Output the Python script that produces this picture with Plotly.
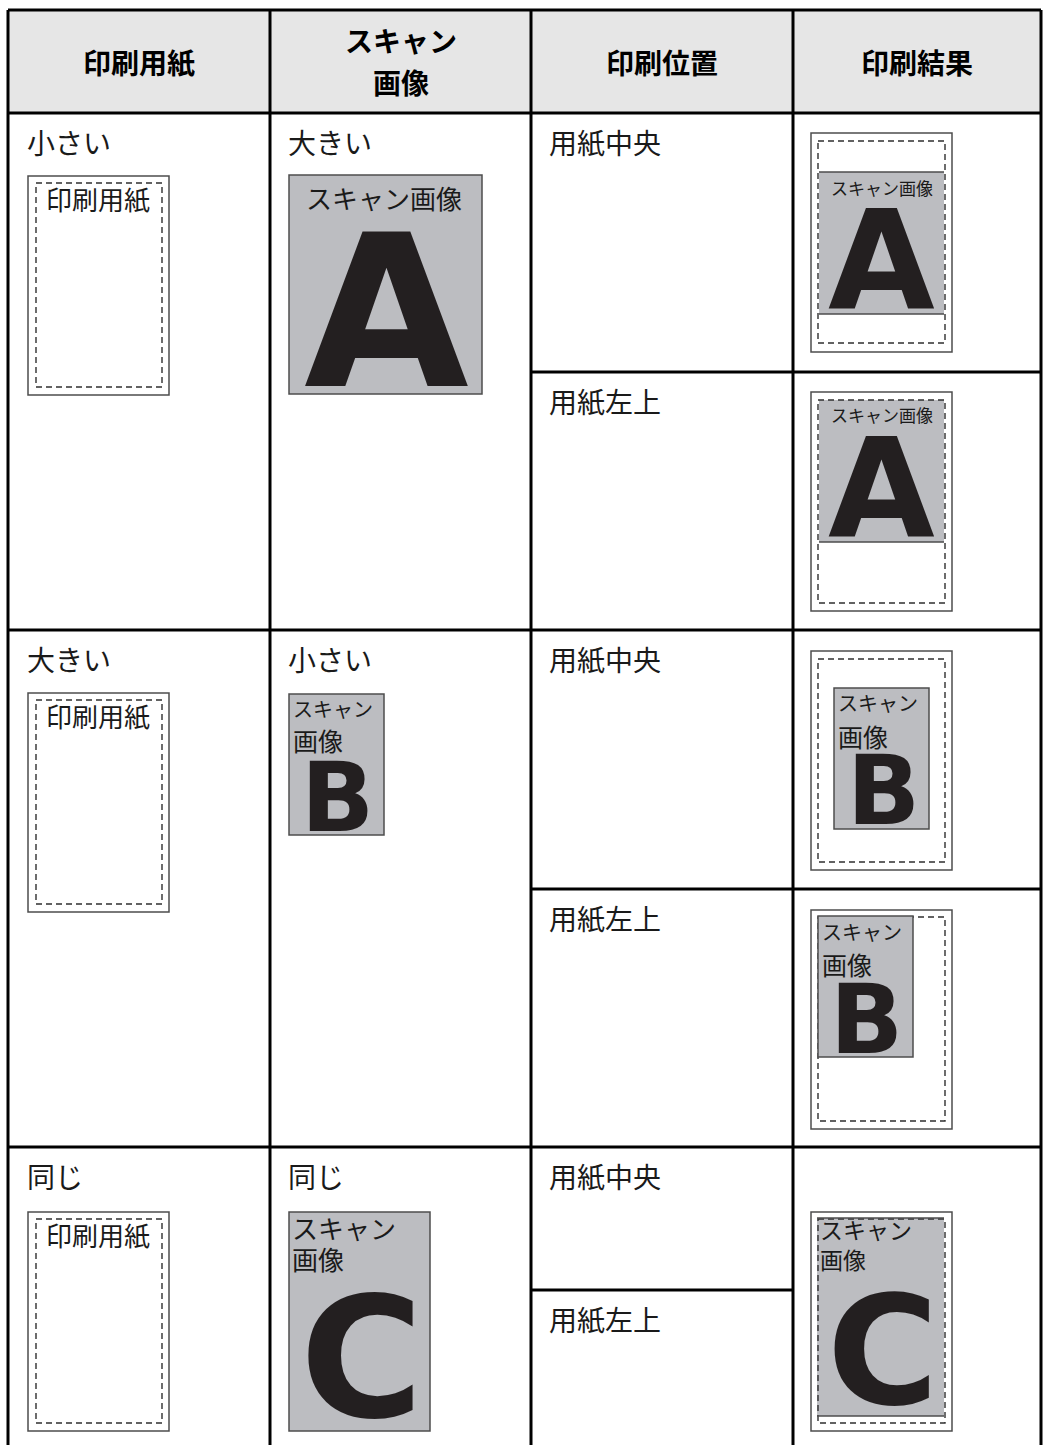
import plotly.graph_objects as go

# ---------------- data (texts) ----------------
header_labels = ["印刷用紙", "スキャン", "画像", "印刷位置", "印刷結果"]
paper_labels = ["小さい", "大きい", "同じ"]
scan_labels = ["大きい", "小さい", "同じ"]
position_labels = ["用紙中央", "用紙左上"]
paper_box_label = "印刷用紙"
scan_one_line = "スキャン画像"
scan_line1 = "スキャン"
scan_line2 = "画像"
letters = ["A", "B", "C"]

# ---------------- geometry / style ----------------
W, H = 1044, 1445
JP = "Noto Sans CJK JP"
LAT = "DejaVu Sans"
BLACK = "#000000"
INK = "#231f20"
HEAD_BG = "#e6e6e6"
IMG_BG = "#bcbdc1"
BOX_LINE = "#4d4d4d"
DASH_LINE = "#2f2f2f"
DASH = "6px,4px"

XC = [8, 270, 531, 793, 1041]
Y_TOP, Y_HEAD = 10, 113
ROW_TOP = [113, 630, 1147]
SUB = [372, 889, 1290]

shapes = []
ann = []


def rect(x0, y0, x1, y1, fill=None, color=None, width=0, dash=None):
    line = dict(width=width)
    if color:
        line["color"] = color
    if dash:
        line["dash"] = dash
    shapes.append(dict(type="rect", xref="x", yref="y", x0=x0, y0=y0, x1=x1, y1=y1,
                       fillcolor=fill if fill else "rgba(0,0,0,0)", line=line, layer="above"))


def hline(x0, x1, y, color=BLACK, width=3, dash=None):
    line = dict(color=color, width=width)
    if dash:
        line["dash"] = dash
    shapes.append(dict(type="line", xref="x", yref="y", x0=x0, x1=x1, y0=y, y1=y, line=line, layer="above"))


def vline(x, y0, y1, color=BLACK, width=3):
    shapes.append(dict(type="line", xref="x", yref="y", x0=x, x1=x, y0=y0, y1=y1,
                       line=dict(color=color, width=width), layer="above"))


def jp(x, y, s, size, xanchor="left", bold=False, color="#1a1a1a"):
    t = f"<b>{s}</b>" if bold else s
    ann.append(dict(x=x, y=y - 0.05 * size, xref="x", yref="y", text=t, showarrow=False,
                    xanchor=xanchor, yanchor="middle", valign="middle", borderpad=0, borderwidth=0,
                    height=round(1.15 * size),
                    font=dict(family=JP, size=size, color=color)))


def letter(x, y, s, size):
    ann.append(dict(x=x, y=y + 0.018 * size, xref="x", yref="y", text=f"<b>{s}</b>", showarrow=False,
                    xanchor="center", yanchor="middle", valign="middle", borderpad=0, borderwidth=0,
                    height=round(0.82 * size),
                    font=dict(family=LAT, size=size, color=INK)))


# ---------------- table frame ----------------
rect(XC[0], Y_TOP, XC[4], Y_HEAD, fill=HEAD_BG)
hline(XC[0], XC[4], Y_TOP)
hline(XC[0], XC[4], Y_HEAD)
for x in XC:
    vline(x, Y_TOP, H)
for y in ROW_TOP[1:]:
    hline(XC[0], XC[4], y)
hline(XC[2], XC[4], SUB[0])
hline(XC[2], XC[4], SUB[1])
hline(XC[2], XC[3], SUB[2])

# header
jp((XC[0] + XC[1]) / 2, 63, header_labels[0], 28, "center", True, "#000")
jp((XC[1] + XC[2]) / 2, 41, header_labels[1], 28, "center", True, "#000")
jp((XC[1] + XC[2]) / 2, 83, header_labels[2], 28, "center", True, "#000")
jp((XC[2] + XC[3]) / 2, 63, header_labels[3], 28, "center", True, "#000")
jp((XC[3] + XC[4]) / 2, 63, header_labels[4], 28, "center", True, "#000")

# row labels
for i in range(3):
    jp(27, ROW_TOP[i] + 30, paper_labels[i], 28)
    jp(288, ROW_TOP[i] + 30, scan_labels[i], 28)
    jp(549, ROW_TOP[i] + 30, position_labels[0], 28)
    jp(549, SUB[i] + 30, position_labels[1], 28)


# paper box in column 1
def paper_box(top):
    rect(28, top, 169, top + 219, color=BOX_LINE, width=1.5)
    rect(36, top + 7, 162, top + 211, color=DASH_LINE, width=1.4, dash=DASH)
    jp(98, top + 23, paper_box_label, 26, "center")


paper_box(176)
paper_box(693)
paper_box(1212)

# ---------------- scan images (column 2) ----------------
# A : large
rect(289, 175, 482, 394, fill=IMG_BG, color=BOX_LINE, width=1.5)
jp(384, 198, scan_one_line, 26, "center")
letter(386, 308, letters[0], 213)
# B : small
rect(289, 694, 384, 835, fill=IMG_BG, color=BOX_LINE, width=1.5)
jp(293, 709, scan_line1, 20)
jp(293, 741, scan_line2, 25)
letter(337, 795.5, letters[1], 96)
# C : same
rect(289, 1212, 430, 1431, fill=IMG_BG, color=BOX_LINE, width=1.5)
jp(292, 1228, scan_line1, 26)
jp(292, 1259, scan_line2, 26)
letter(361, 1356, letters[2], 168)

# ---------------- results (column 4) ----------------
# Row A, center
rect(811, 133, 952, 352, color=BOX_LINE, width=1.5)
rect(819, 172, 944, 314, fill=IMG_BG)
rect(818, 141, 945, 343, color=DASH_LINE, width=1.4, dash=DASH)
hline(819, 944, 172, BOX_LINE, 1.5)
hline(819, 944, 314, BOX_LINE, 1.5)
jp(881.5, 188, scan_one_line, 17, "center")
letter(881.5, 258, letters[0], 138)
# Row A, top-left
rect(811, 392, 952, 611, color=BOX_LINE, width=1.5)
rect(819, 400, 944, 542, fill=IMG_BG)
rect(818, 400, 945, 603, color=DASH_LINE, width=1.4, dash=DASH)
hline(819, 944, 542, BOX_LINE, 1.5)
jp(881.5, 415, scan_one_line, 17, "center")
letter(881.5, 486, letters[0], 138)
# Row B, center
rect(811, 651, 952, 870, color=BOX_LINE, width=1.5)
rect(818, 659, 945, 862, color=DASH_LINE, width=1.4, dash=DASH)
rect(834, 688, 929, 829, fill=IMG_BG, color=BOX_LINE, width=1.5)
jp(838, 703, scan_line1, 20)
jp(838, 737, scan_line2, 25)
letter(883, 789, letters[1], 96)
# Row B, top-left
rect(811, 910, 952, 1129, color=BOX_LINE, width=1.5)
rect(818, 917, 945, 1121, color=DASH_LINE, width=1.4, dash=DASH)
rect(818, 916, 913, 1057, fill=IMG_BG, color=BOX_LINE, width=1.5)
jp(822, 932, scan_line1, 20)
jp(822, 965, scan_line2, 25)
letter(866.5, 1017.5, letters[1], 96)
# Row C (same size)
rect(811, 1212, 952, 1431, color=BOX_LINE, width=1.5)
rect(817, 1218, 944, 1416, fill=IMG_BG)
rect(818, 1219, 945, 1423, color=DASH_LINE, width=1.4, dash=DASH)
hline(817, 944, 1218, BOX_LINE, 1.5)
hline(817, 944, 1416, BOX_LINE, 1.5)
jp(820, 1230, scan_line1, 23)
jp(820, 1260, scan_line2, 23)
letter(882.5, 1349, letters[2], 152)

fig = go.Figure()
fig.update_layout(
    width=W, height=H,
    margin=dict(l=0, r=0, t=0, b=0),
    paper_bgcolor="white", plot_bgcolor="white",
    xaxis=dict(range=[0, W], visible=False, fixedrange=True),
    yaxis=dict(range=[H, 0], visible=False, fixedrange=True),
    shapes=shapes, annotations=ann, showlegend=False,
)
fig.write_html("out.html",
               config={"displayModeBar": False, "staticPlot": True},
               post_script="document.body.style.margin='0';document.body.style.overflow='hidden';")
